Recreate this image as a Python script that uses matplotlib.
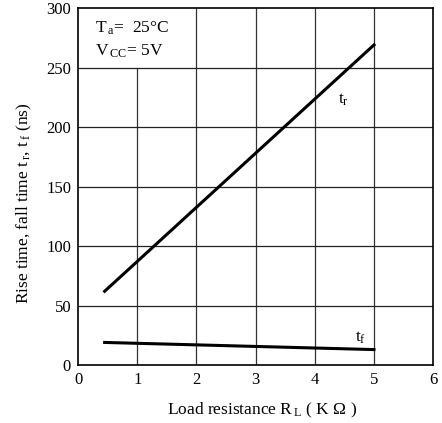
import matplotlib
matplotlib.use("Agg")
import matplotlib.pyplot as plt

plt.rcParams['font.family'] = ['Liberation Serif', 'DejaVu Serif']
plt.rcParams['mathtext.fontset'] = 'custom'
plt.rcParams['mathtext.rm'] = 'Liberation Serif'

rl_k = [0.45, 5.0]
t_rise = [62, 269]
t_fall = [19, 13]
xticks = [0, 1, 2, 3, 4, 5, 6]
yticks = [0, 50, 100, 150, 200, 250, 300]

fig = plt.figure(figsize=(4.42, 4.23), dpi=100)
ax = fig.add_axes([0.1765, 0.137, 0.8035, 0.844])
ax.set_xlim(0, 6)
ax.set_ylim(0, 300)
ax.set_xticks(xticks)
ax.set_yticks(yticks)
ax.tick_params(length=0, labelsize=12, pad=5)

for x in xticks[1:-1]:
    top = 250/300 if x == 1 else 1
    ax.axvline(x, ymin=0, ymax=top, color='#333333', lw=0.9, zorder=1)
for y in yticks[1:-1]:
    ax.axhline(y, color='#222222', lw=0.9, zorder=1)
for s in ax.spines.values():
    s.set_linewidth(1.2)

ax.plot(rl_k, t_rise, color='black', lw=2.2, zorder=3)
ax.plot(rl_k, t_fall, color='black', lw=2.2, zorder=3)

ax.text(4.48, 223, r'$\mathrm{t_r}$', fontsize=12.5, ha='center', va='center')
ax.text(4.78, 23, r'$\mathrm{t_f}$', fontsize=12.5, ha='center', va='center')

ax.text(0.29, 283, r'$\mathrm{T_{\,a}}$=  25°C', fontsize=12.5, ha='left', va='center')
ax.text(0.29, 264, r'$\mathrm{V_{\,CC}}$= 5V', fontsize=12.5, ha='left', va='center')

ax.set_xlabel(r'Load resistance $\mathrm{R_{\,L}}$ ( K $\Omega$ )', fontsize=12.5, labelpad=9)
ax.set_ylabel(r'Rise time, fall time $\mathrm{t_{\,r}}$, $\mathrm{t_{\,f}}$ (ns)', fontsize=12.5, labelpad=9)
ax.yaxis.label.set_y(0.454)
ax.xaxis.label.set_x(0.518)

fig.savefig('out.png', dpi=100)
